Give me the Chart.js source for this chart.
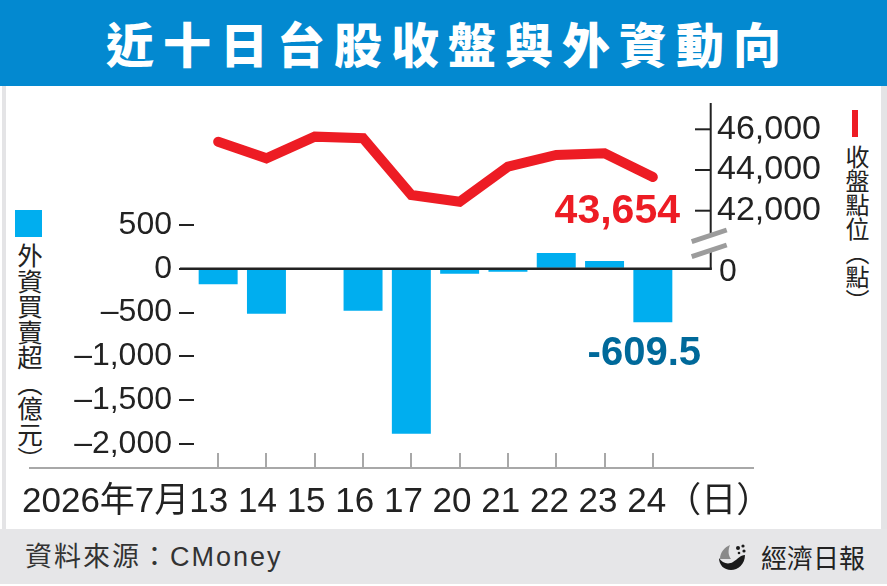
<!DOCTYPE html>
<html>
<head>
<meta charset="utf-8">
<script src="https://cdn.jsdelivr.net/npm/chart.js@4/dist/chart.umd.min.js"></script>
<style>
  html, body { margin: 0; padding: 0; background: #fff; }
  body { width: 887px; height: 586px; position: relative; overflow: hidden; font-family: "Liberation Sans", "Noto Sans CJK TC", sans-serif; }
  .abs { position: absolute; }
  #banner { left: 0; top: 0; width: 887px; height: 86px; background: #0389d0; }
  #title { left: 0; top: 0; width: 887px; height: 86px; line-height: 84px; text-align: center; color: #fff;
           font-family: "Noto Sans CJK TC", sans-serif; font-weight: 900; font-size: 48px; letter-spacing: 9px; text-indent: 9px; }
  #stripL { left: 2px; top: 86px; width: 4px; height: 443px; background: #e4e4e6; }
  #stripR { left: 881px; top: 86px; width: 6px; height: 443px; background: #e4e4e6; }
  #footer { left: 0; top: 529px; width: 887px; height: 55px; background: #e6e6e8; }
  #source { left: 25px; top: 540px; font-size: 27px; letter-spacing: 2px; color: #333; line-height: 34px;
            font-family: "Liberation Sans", "Noto Sans CJK TC", sans-serif; }
  #brand { left: 761px; top: 540px; font-size: 26px; color: #222; line-height: 34px; font-family: "Noto Sans CJK TC", sans-serif; }
  .vt { writing-mode: vertical-rl; font-family: "Noto Sans CJK TC", sans-serif; color: #222; line-height: 1; }
  #ltitle { left: 17px; top: 243px; font-size: 25.5px; }
  #rtitle { left: 845px; top: 145px; font-size: 24px; }
  #lmark { left: 15px; top: 210px; width: 27px; height: 27px; background: #00aeef; }
  #rmark { left: 852px; top: 110px; width: 6px; height: 27px; background: #ed1c24; }
  #chart { left: 0; top: 0; }
</style>
</head>
<body>
<div id="banner" class="abs"></div>
<div id="title" class="abs">近十日台股收盤與外資動向</div>
<div id="stripL" class="abs"></div>
<div id="stripR" class="abs"></div>
<div id="footer" class="abs"></div>
<div id="source" class="abs">資料來源：CMoney</div>
<svg class="abs" style="left:718px;top:543px" width="30" height="28" viewBox="0 0 30 28">
  <path d="M2 16 C2 9 7 4 12 2 C10 7 10 12 13 16 Z" fill="#8a8a8a"/>
  <path d="M1 15 C4 20 10 22 15 19 C20 16 22 12 27 12 C27 21 20 27 13 27 C6 27 1 22 1 15 Z" fill="#1a1a1a"/>
  <circle cx="20" cy="5" r="2" fill="#1a1a1a"/>
  <circle cx="25" cy="3" r="1.6" fill="#1a1a1a"/>
  <circle cx="26" cy="8" r="1.6" fill="#1a1a1a"/>
  <circle cx="21" cy="10" r="1.3" fill="#1a1a1a"/>
</svg>
<div id="brand" class="abs">經濟日報</div>
<div id="lmark" class="abs"></div>
<div id="ltitle" class="abs vt">外資買賣超（億元）</div>
<div id="rmark" class="abs"></div>
<div id="rtitle" class="abs vt">收盤點位（點）</div>
<canvas id="chart" class="abs" width="887" height="586"></canvas>
<script>
// ---- data ----
const datePrefix = '2026年7月';
const dateSuffix = '（日）';
const categories = ['13', '14', '15', '16', '17', '20', '21', '22', '23', '24'];
const foreignNet = [-177, -512, 0, -478, -1882, -56, -33, 180, 89, -609.5]; // 億元
const closeIndex = [45390, 44575, 45640, 45560, 42770, 42440, 44160, 44740, 44820, 43654]; // 點
const leftTicks = [500, 0, -500, -1000, -1500, -2000];
const rightTicks = [42000, 44000, 46000];

const FONT = '"Liberation Sans", "Noto Sans CJK TC", sans-serif';

function fmt(v) {
  const s = Math.abs(v).toLocaleString('en-US');
  return v < 0 ? '\u2013' + s : s;
}

const extras = {
  id: 'extras',
  afterDraw(chart) {
    const ctx = chart.ctx;
    const y = chart.scales.y, y1 = chart.scales.y1;
    const y0 = y.getPixelForValue(0);
    const axX = 710.7;
    ctx.save();
    // zero line
    ctx.strokeStyle = '#222';
    ctx.lineWidth = 2.5;
    ctx.beginPath(); ctx.moveTo(180, y0); ctx.lineTo(axX + 1, y0); ctx.stroke();
    // right axis line
    ctx.lineWidth = 2;
    ctx.beginPath(); ctx.moveTo(axX, 103); ctx.lineTo(axX, y0 + 1); ctx.stroke();
    // right axis ticks
    rightTicks.forEach(v => {
      const py = y1.getPixelForValue(v);
      ctx.beginPath(); ctx.moveTo(695, py); ctx.lineTo(axX, py); ctx.stroke();
    });
    // axis break
    ctx.fillStyle = '#fff';
    ctx.beginPath();
    ctx.moveTo(700, 239); ctx.lineTo(722, 231.5); ctx.lineTo(722, 246.5); ctx.lineTo(700, 254); ctx.closePath(); ctx.fill();
    ctx.strokeStyle = '#9c9c9c';
    ctx.lineWidth = 5;
    ctx.lineCap = 'butt';
    ctx.beginPath(); ctx.moveTo(691.7, 241.7); ctx.lineTo(726.7, 230); ctx.stroke();
    ctx.beginPath(); ctx.moveTo(691.7, 256.7); ctx.lineTo(726.7, 245); ctx.stroke();
    // right "0" label
    ctx.fillStyle = '#222';
    ctx.font = '32px ' + FONT;
    ctx.textAlign = 'left'; ctx.textBaseline = 'middle';
    ctx.fillText('0', 719, y0 + 3);
    // bottom baseline
    ctx.strokeStyle = '#a8a8a8';
    ctx.lineWidth = 2;
    ctx.beginPath(); ctx.moveTo(29, 468); ctx.lineTo(754, 468); ctx.stroke();
    // date labels
    ctx.fillStyle = '#222';
    ctx.font = '35px ' + FONT;
    ctx.textBaseline = 'alphabetic';
    ctx.textAlign = 'left';
    ctx.fillText(datePrefix + categories.join(' ') + dateSuffix, 22, 512);
    // callouts
    const last = closeIndex.length - 1;
    ctx.font = 'bold 41px ' + FONT;
    ctx.fillStyle = '#ed1c24';
    ctx.textAlign = 'right';
    ctx.fillText(closeIndex[last].toLocaleString('en-US'), 680, 223);
    ctx.font = 'bold 40px ' + FONT;
    ctx.fillStyle = '#00699a';
    ctx.fillText(String(foreignNet[last]), 701, 365);
    ctx.restore();
  }
};

new Chart(document.getElementById('chart'), {
  type: 'bar',
  data: {
    labels: categories,
    datasets: [
      {
        type: 'line',
        data: closeIndex,
        yAxisID: 'y1',
        borderColor: '#ed1c24',
        borderWidth: 10,
        borderCapStyle: 'round',
        borderJoinStyle: 'miter',
        pointRadius: 0,
        tension: 0,
        clip: false,
        order: 0
      },
      {
        type: 'bar',
        data: foreignNet,
        yAxisID: 'y',
        backgroundColor: '#00aeef',
        barPercentage: 0.807,
        categoryPercentage: 1,
        order: 1
      }
    ]
  },
  options: {
    responsive: false,
    devicePixelRatio: 1,
    animation: false,
    events: [],
    layout: { padding: { top: 100, left: 0, right: 0, bottom: 0 } },
    plugins: { legend: { display: false }, tooltip: { enabled: false } },
    scales: {
      x: {
        type: 'category',
        offset: true,
        grid: { display: true, offset: false, drawOnChartArea: false, drawTicks: true, tickLength: 15, color: '#a8a8a8', lineWidth: 2 },
        border: { display: false },
        ticks: { display: false },
        afterFit: s => { s.height = 133; }
      },
      y: {
        position: 'left',
        min: -2102.7,
        max: 1926.9,
        grid: { display: true, drawOnChartArea: false, drawTicks: true, tickLength: 15, color: '#222', lineWidth: 2 },
        border: { display: false },
        ticks: { font: { size: 32, family: FONT }, color: '#222', padding: 7, callback: v => fmt(v) },
        afterBuildTicks: s => { s.ticks = leftTicks.map(v => ({ value: v })); },
        afterFit: s => { s.width = 194; }
      },
      y1: {
        position: 'right',
        min: 30093,
        max: 47440,
        grid: { display: true, drawOnChartArea: false, drawTicks: false },
        border: { display: false },
        ticks: { font: { size: 34, family: FONT }, color: '#222', padding: 40, callback: v => fmt(v) },
        afterBuildTicks: s => { s.ticks = rightTicks.map(v => ({ value: v })); },
        afterFit: s => { s.width = 210; }
      }
    }
  },
  plugins: [extras]
});
</script>
</body>
</html>
